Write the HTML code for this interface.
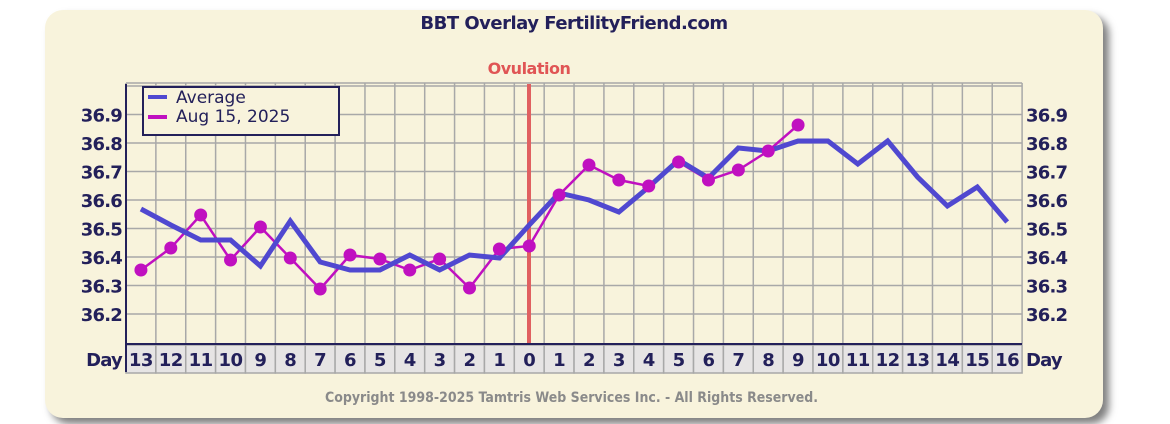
<!DOCTYPE html>
<html><head><meta charset="utf-8"><style>
html,body{margin:0;padding:0;background:#fff;width:1170px;height:424px;overflow:hidden}
.panel{position:absolute;left:45px;top:10px;width:1058px;height:408px;background:#f8f3dc;border-radius:18px;box-shadow:6px 6px 8px rgba(0,0,0,0.5)}
svg{position:absolute;left:0;top:0}
text{font-family:"DejaVu Sans","Liberation Sans",sans-serif}
</style></head><body>
<div class="panel"></div>
<svg width="1170" height="424" xmlns="http://www.w3.org/2000/svg">
<text x="574" y="29" text-anchor="middle" font-size="18" font-weight="bold" fill="#23205a" letter-spacing="-0.5">BBT Overlay FertilityFriend.com</text>
<text x="529" y="74" text-anchor="middle" font-size="16" font-weight="bold" fill="#e05555" letter-spacing="-0.5">Ovulation</text>
<g id="grid" stroke="#a8a8a8" stroke-width="1.5"></g>
<g id="days"></g>
<line x1="529" y1="84" x2="529" y2="343" stroke="#e06060" stroke-width="4"/>
<line x1="126" y1="84" x2="126" y2="372" stroke="#23205a" stroke-width="2"/>
<line x1="126" y1="344" x2="1022" y2="344" stroke="#23205a" stroke-width="2"/>
<g id="series"></g>
<g id="labels" font-size="18" font-weight="bold" fill="#23205a"></g>
<rect x="143" y="87" width="196" height="48" fill="#f8f3dc" stroke="#23205a" stroke-width="2"/>
<rect x="148" y="95" width="19" height="4" fill="#5048d0"/>
<rect x="148" y="115" width="19" height="4" fill="#c010c0"/>
<text x="176" y="103" font-size="17" fill="#23205a">Average</text>
<text x="176" y="122" font-size="17" fill="#23205a">Aug 15, 2025</text>
<text x="325" y="402" font-size="14" font-weight="bold" fill="#8a8a8a" textLength="493" lengthAdjust="spacingAndGlyphs">Copyright 1998-2025 Tamtris Web Services Inc. - All Rights Reserved.</text>
</svg>
<script>
const NS="http://www.w3.org/2000/svg";
function el(p,t,a,txt){const e=document.createElementNS(NS,t);for(const k in a)e.setAttribute(k,a[k]);if(txt!==undefined)e.textContent=txt;document.getElementById(p).appendChild(e);return e;}
const L=126,W=29.87,N=30;
const Y=v=>114.5+(36.9-v)*285;
const days=[13,12,11,10,9,8,7,6,5,4,3,2,1,0,1,2,3,4,5,6,7,8,9,10,11,12,13,14,15,16];
for(let i=0;i<N;i++){
  el('days','rect',{x:L+i*W,y:345,width:W,height:28,fill:'#e6e4e4',stroke:'#a8a8a8','stroke-width':1.5});
  el('days','text',{x:L+(i+0.5)*W,y:366,'text-anchor':'middle','font-size':18,'font-weight':'bold',fill:'#23205a','letter-spacing':'-0.5'},String(days[i]));
}
for(let i=0;i<=N;i++)el('grid','line',{x1:L+i*W,y1:83,x2:L+i*W,y2:344});
el('grid','line',{x1:L,y1:83,x2:L+N*W,y2:83});
for(let k=0;k<=8;k++){const v=36.2+k*0.1;el('grid','line',{x1:L,y1:Y(v),x2:L+N*W,y2:Y(v)});}
for(let k=0;k<8;k++){const v=(36.2+k*0.1).toFixed(1);
  el('labels','text',{x:122,y:Y(+v)+7,'text-anchor':'end','letter-spacing':'-0.8'},v);
  el('labels','text',{x:1026,y:Y(+v)+7,'letter-spacing':'-0.8'},v);}
el('labels','text',{x:122,y:366,'text-anchor':'end','letter-spacing':'-0.8'},'Day');
el('labels','text',{x:1026,y:366,'letter-spacing':'-0.8'},'Day');
const avg=[209,225,240,240,266,221,262,270,270,255,270,255,258,225,193,200,212,187,160,178,148,151,141,141,164,141,177,206,187,222];
const pk=[270,248,215,260,227,258,289,255,259,270,259,288,249,246,195,165,180,186,162,180,170,151,125];
const cx=i=>L+(i+0.5)*W;
el('series','polyline',{points:pk.map((y,i)=>cx(i)+','+y).join(' '),fill:'none',stroke:'#c010c0','stroke-width':2.5});
el('series','polyline',{points:avg.map((y,i)=>cx(i)+','+y).join(' '),fill:'none',stroke:'#5048d0','stroke-width':5,'stroke-linejoin':'miter'});
pk.forEach((y,i)=>el('series','circle',{cx:cx(i),cy:y,r:6.5,fill:'#c010c0'}));
</script>
</body></html>
